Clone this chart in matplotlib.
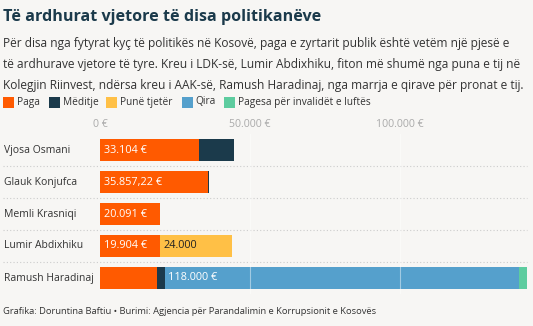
import matplotlib
matplotlib.use("Agg")
import matplotlib.pyplot as plt
from matplotlib.patches import Rectangle
from matplotlib.transforms import blended_transform_factory

names = ["Vjosa Osmani", "Glauk Konjufca", "Memli Krasniqi", "Lumir Abdixhiku", "Ramush Haradinaj"]
series_names = ["Paga", "Mëditje", "Punë tjetër", "Qira", "Pagesa për invalidët e luftës"]
paga = [33104, 35857.22, 20091, 19904, 19000]
meditje = [11600, 350, 0, 0, 2500]
pune_tjeter = [0, 0, 0, 24000, 0]
qira = [0, 0, 0, 0, 118000]
pagesa = [0, 0, 0, 0, 2700]
bar_labels = {
    (0, 0): "33.104 €", (1, 0): "35.857,22 €", (2, 0): "20.091 €",
    (3, 0): "19.904 €", (3, 2): "24.000", (4, 3): "118.000 €",
}
xticks = [0, 50000, 100000]
xticklabels = ["0 €", "50.000 €", "100.000 €"]
colors = ["#ff5a00", "#1b3a4b", "#ffc046", "#55a0cc", "#5dcc9f"]
label_colors = ["white", "white", "#222222", "white", "white"]

BG = "#f7f6f4"
FONT = "Open Sans"
W, H = 533, 326
fig = plt.figure(figsize=(W / 100, H / 100), dpi=100, facecolor=BG)

def fx(px): return px / W
def fy(py): return 1 - py / H

fig.text(fx(3), fy(17), "Të ardhurat vjetore të disa politikanëve", fontsize=11.6,
         fontweight="bold", color="#1b3a4b", family=FONT, va="center", ha="left")
sub = ["Për disa nga fytyrat kyç të politikës në Kosovë, paga e zyrtarit publik është vetëm një pjesë e",
       "të ardhurave vjetore të tyre. Kreu i LDK-së, Lumir Abdixhiku, fiton më shumë nga puna e tij në",
       "Kolegjin Riinvest, ndërsa kreu i AAK-së, Ramush Haradinaj, nga marrja e qirave për pronat e tij."]
for i, s in enumerate(sub):
    fig.text(fx(3), fy(44 + 20.7 * i), s, fontsize=8.6, color="#333333", family=FONT,
             va="center", ha="left")

# legend
leg_x = [3, 49, 106, 182, 224]
for x, c, n in zip(leg_x, colors, series_names):
    fig.patches.append(Rectangle((fx(x), fy(107.5)), fx(10.5), 10.5 / H, transform=fig.transFigure,
                                 facecolor=c, edgecolor="none"))
    fig.text(fx(x + 13.5), fy(102), n, fontsize=7.3, color="#333333", family=FONT,
             va="center", ha="left")

ax = fig.add_axes([fx(100), fy(294), fx(527 - 100), 160 / H])
ax.set_facecolor("none")
ypos = list(range(len(names)))
left = [0.0] * len(names)
all_series = [paga, meditje, pune_tjeter, qira, pagesa]
for si, (vals, c) in enumerate(zip(all_series, colors)):
    ax.barh(ypos, vals, left=left, height=0.69, color=c, edgecolor="none", zorder=2)
    for ri in ypos:
        if (ri, si) in bar_labels:
            ax.text(left[ri] + 1300, ri, bar_labels[(ri, si)], color=label_colors[si],
                    fontsize=7.8, family=FONT, va="center", ha="left", zorder=4)
    left = [l + v for l, v in zip(left, vals)]

ax.set_xlim(0, 142300)
ax.set_ylim(4.5, -0.5)
ax.set_yticks([])
ax.xaxis.tick_top()
ax.set_xticks(xticks)
ax.set_xticklabels(xticklabels, family=FONT, fontsize=7.6, color="#aaaaaa")
ax.tick_params(axis="x", length=0, pad=3)
for sp in ax.spines.values():
    sp.set_visible(False)
for xv in xticks[1:]:
    ax.axvline(xv, color="white", alpha=0.45, lw=0.8, zorder=3)

tr = blended_transform_factory(fig.transFigure, ax.transData)
for i in range(len(names) - 1):
    ax.plot([fx(3), fx(527)], [i + 0.5, i + 0.5], transform=tr, color="#cccccc",
            lw=0.8, ls=(0, (1, 2)), clip_on=False, zorder=1)
for i, n in enumerate(names):
    ax.text(fx(4), i, n, transform=tr, fontsize=7.5, family=FONT, color="#333333",
            va="center", ha="left")

fig.text(fx(3), fy(311), "Grafika: Doruntina Baftiu • Burimi: Agjencia për Parandalimin e Korrupsionit e Kosovës",
         fontsize=6.75, color="#333333", family=FONT, va="center", ha="left")

fig.savefig("out.png", dpi=100, facecolor=BG)
